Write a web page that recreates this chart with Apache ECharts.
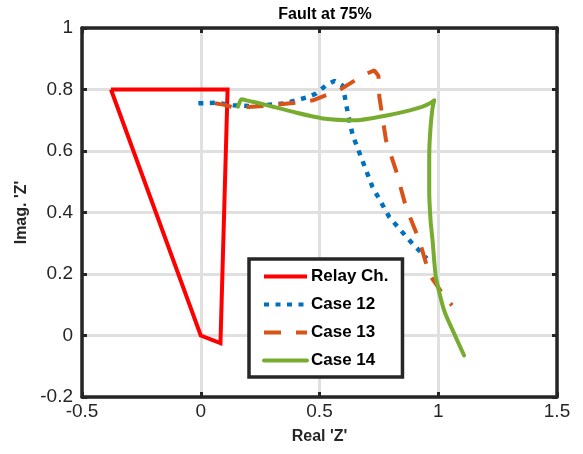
<!DOCTYPE html>
<html>
<head>
<meta charset="utf-8">
<script src="https://cdn.jsdelivr.net/npm/echarts@6/dist/echarts.min.js"></script>
<style>html,body{margin:0;padding:0;background:#fff;}#c{width:583px;height:454px;}</style>
</head>
<body>
<div id="c"></div>
<script>
// ---- data ----
const xTicks = [-0.5, 0, 0.5, 1, 1.5];
const yTicks = [-0.2, 0, 0.2, 0.4, 0.6, 0.8, 1];
const seriesNames = ['Relay Ch.', 'Case 12', 'Case 13', 'Case 14'];

const relayX = [-0.378, 0.113, 0.083, 0.0, -0.378];
const relayY = [0.8, 0.8, -0.025, 0.0, 0.8];

const case12X = [-0.01, 0.06, 0.136, 0.2, 0.276, 0.35, 0.402, 0.45, 0.486, 0.528, 0.563, 0.598, 0.62, 0.64, 0.675, 0.723, 0.794, 0.878, 0.952];
const case12Y = [0.755, 0.757, 0.749, 0.746, 0.749, 0.755, 0.765, 0.775, 0.787, 0.814, 0.828, 0.812, 0.72, 0.651, 0.58, 0.483, 0.385, 0.31, 0.25];

const case13X = [0.06, 0.1, 0.136, 0.2, 0.304, 0.4, 0.472, 0.584, 0.65, 0.7, 0.731, 0.748, 0.752, 0.78, 0.822, 0.864, 0.92, 0.962, 1.018, 1.058];
const case13Y = [0.755, 0.75, 0.742, 0.743, 0.749, 0.757, 0.765, 0.798, 0.83, 0.852, 0.862, 0.845, 0.776, 0.635, 0.537, 0.418, 0.31, 0.2, 0.136, 0.098];

const case14X = [0.157, 0.171, 0.2, 0.25, 0.304, 0.4, 0.514, 0.654, 0.794, 0.88, 0.934, 0.965, 0.983, 0.975, 0.966, 0.962, 0.962, 0.968, 0.976, 0.99, 1.025, 1.067, 1.109];
const case14Y = [0.744, 0.768, 0.763, 0.755, 0.744, 0.725, 0.706, 0.700, 0.717, 0.732, 0.744, 0.755, 0.765, 0.735, 0.66, 0.58, 0.47, 0.37, 0.31, 0.19, 0.081, 0.006, -0.065];

function pairs(xs, ys) { return xs.map((x, i) => [x, ys[i]]); }

const FONT = "'Liberation Sans', Arial, Helvetica, sans-serif";
const AX = '#262626';

const chart = echarts.init(document.getElementById('c'), null, {renderer: 'canvas'});
const baseX = {
  type: 'value', min: xTicks[0], max: xTicks[xTicks.length - 1], interval: 0.5
};
const baseY = {
  type: 'value', min: yTicks[0], max: yTicks[yTicks.length - 1], interval: 0.2
};
chart.setOption({
  animation: false,
  backgroundColor: '#ffffff',
  title: {
    text: 'Fault at 75%', left: 320, top: 2, textAlign: 'center',
    textStyle: {fontFamily: FONT, fontSize: 16, fontWeight: 'bold', color: '#000'}
  },
  grid: {left: 82, right: 26, top: 28, bottom: 57, containLabel: false},
  legend: {
    orient: 'vertical', left: 249, top: 259,
    data: seriesNames,
    itemWidth: 43, itemHeight: 14, itemGap: 11,
    padding: [9, 14, 8, 13],
    borderColor: AX, borderWidth: 3.5, backgroundColor: '#fff',
    itemStyle: {color: 'rgba(0,0,0,0)', borderWidth: 0, opacity: 0},
    lineStyle: {width: 4},
    textStyle: {fontFamily: FONT, fontSize: 17, fontWeight: 'bold', color: '#000', padding: [0, 0, 0, -1]}
  },
  xAxis: [
    Object.assign({}, baseX, {
      position: 'bottom',
      name: "Real 'Z'", nameLocation: 'middle', nameGap: 32,
      nameTextStyle: {fontFamily: FONT, fontSize: 16, fontWeight: 'bold', color: AX},
      axisLine: {show: true, onZero: false, lineStyle: {color: AX, width: 3.5}},
      axisTick: {show: true, inside: true, length: 5, lineStyle: {color: AX, width: 3}},
      axisLabel: {fontFamily: FONT, fontSize: 19, color: AX, margin: 5},
      splitLine: {show: true, lineStyle: {color: '#e0e0e0', width: 3}}
    }),
    Object.assign({}, baseX, {
      position: 'top',
      axisLine: {show: true, onZero: false, lineStyle: {color: AX, width: 3.5}},
      axisTick: {show: true, inside: true, length: 5, lineStyle: {color: AX, width: 3}},
      axisLabel: {show: false},
      splitLine: {show: false}
    })
  ],
  yAxis: [
    Object.assign({}, baseY, {
      position: 'left',
      name: "Imag. 'Z'", nameLocation: 'middle', nameGap: 51, nameRotate: 90,
      nameTextStyle: {fontFamily: FONT, fontSize: 16, fontWeight: 'bold', color: AX},
      axisLine: {show: true, onZero: false, lineStyle: {color: AX, width: 3.5}},
      axisTick: {show: true, inside: true, length: 5, lineStyle: {color: AX, width: 3}},
      axisLabel: {fontFamily: FONT, fontSize: 19, color: AX, margin: 9},
      splitLine: {show: true, lineStyle: {color: '#e0e0e0', width: 3}}
    }),
    Object.assign({}, baseY, {
      position: 'right',
      axisLine: {show: true, onZero: false, lineStyle: {color: AX, width: 3.5}},
      axisTick: {show: true, inside: true, length: 5, lineStyle: {color: AX, width: 3}},
      axisLabel: {show: false},
      splitLine: {show: false}
    })
  ],
  series: [
    {
      name: seriesNames[0], type: 'line', xAxisIndex: 0, yAxisIndex: 0,
      data: pairs(relayX, relayY), showSymbol: false, symbol: 'none',
      itemStyle: {color: '#FF0000'},
      lineStyle: {color: '#FF0000', width: 4, join: 'miter'}
    },
    {
      name: seriesNames[1], type: 'line', xAxisIndex: 0, yAxisIndex: 0,
      data: pairs(case12X, case12Y), showSymbol: false, symbol: 'none',
      itemStyle: {color: '#0072BD'},
      lineStyle: {color: '#0072BD', width: 4.5, type: [5, 6.5], cap: 'butt'}
    },
    {
      name: seriesNames[2], type: 'line', xAxisIndex: 0, yAxisIndex: 0,
      data: pairs(case13X, case13Y), showSymbol: false, symbol: 'none',
      itemStyle: {color: '#D95319'},
      lineStyle: {color: '#D95319', width: 4, type: [17, 15], cap: 'butt'}
    },
    {
      name: seriesNames[3], type: 'line', xAxisIndex: 0, yAxisIndex: 0,
      data: pairs(case14X, case14Y), showSymbol: false, symbol: 'none', smooth: 0.2,
      itemStyle: {color: '#77AC30'},
      lineStyle: {color: '#77AC30', width: 4, cap: 'round', join: 'round'}
    }
  ]
});
</script>
</body>
</html>
